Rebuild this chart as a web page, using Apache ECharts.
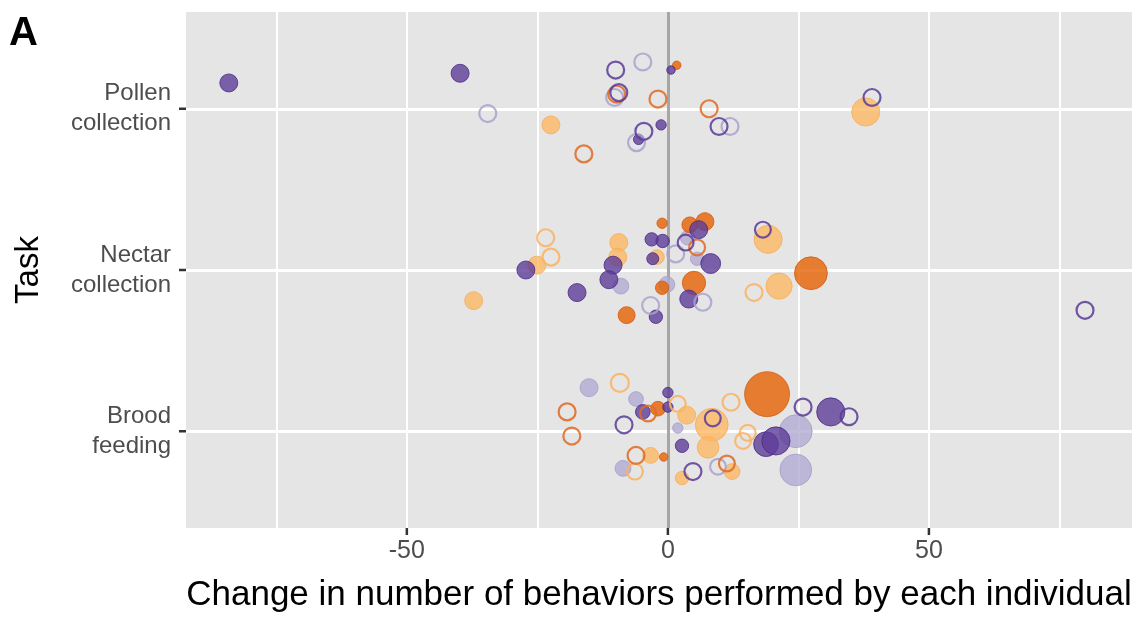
<!DOCTYPE html>
<html><head><meta charset="utf-8">
<script src="https://cdn.jsdelivr.net/npm/echarts@6/dist/echarts.min.js"></script>
<style>html,body{margin:0;padding:0;background:#fff}#c{width:1144px;height:617px}</style>
</head><body><div id="c"></div><script>
// Task categories (y positions 1,2,3)
const tasks = ['Brood\nfeeding', 'Nectar\ncollection', 'Pollen\ncollection'];
const taskTicks = [1, 2, 3];
const xTicks = [-50, 0, 50];
const xGrid = [-75, -50, -25, 0, 25, 50, 75];
const xTitle = 'Change in number of behaviors performed by each individual';
const yTitle = 'Task';
const xMin = -92.3, xMax = 88.9, yMin = 0.4, yMax = 3.6;

// Each point: [change, task (1=Brood,2=Nectar,3=Pollen), jitter, weight]
const darkPurpleFilled = [
  [-84.1,3,0.16,9],[-39.8,3,0.22,9],[-1.3,3,-0.10,3],[-5.6,3,-0.19,3],[0.6,3,0.24,2],
  [-27.2,2,0.00,9],[-17.4,2,-0.14,9],[-10.5,2,0.03,9],[-11.3,2,-0.06,9],[-3.1,2,0.19,5],
  [-1.0,2,0.18,5],[-2.9,2,0.07,4],[-2.3,2,-0.29,5],[5.9,2,0.25,9],[8.2,2,0.04,11],[4.0,2,-0.18,9],
  [-4.8,1,0.12,6],[0.0,1,0.24,3],[0.0,1,0.15,3],[2.7,1,-0.09,5],[18.8,1,-0.08,17],[20.7,1,-0.06,22],[31.2,1,0.12,22]
];
const darkPurpleOpen = [
  [-10.0,3,0.24,8],[-9.4,3,0.10,8],[-4.6,3,-0.14,8],[9.8,3,-0.11,8],[39.1,3,0.07,8],
  [3.4,2,0.17,7],[18.2,2,0.25,7],[79.9,2,-0.25,8],
  [-8.4,1,0.04,8],[4.8,1,-0.25,8],[8.6,1,0.08,7],[25.9,1,0.15,8],[34.7,1,0.09,8]
];
const lightPurpleFilled = [
  [-9.0,2,-0.10,7],[-0.2,2,-0.09,7],[3.8,2,0.20,6],[5.6,2,0.07,5],
  [-15.1,1,0.27,9],[-6.1,1,0.20,6],[1.9,1,0.02,3],[-8.6,1,-0.23,7],[24.5,1,0.00,30],[24.5,1,-0.24,28]
];
const lightPurpleOpen = [
  [-34.5,3,-0.03,8],[-4.8,3,0.29,8],[-10.2,3,0.07,8],[-6.0,3,-0.21,8],[11.9,3,-0.11,8],
  [1.5,2,0.10,8],[-3.3,2,-0.22,8],[6.7,2,-0.20,8],
  [9.6,1,-0.22,7]
];
const darkOrangeFilled = [
  [1.7,3,0.27,2],
  [-1.1,2,0.29,3],[-1.1,2,-0.11,5],[-7.9,2,-0.28,8],[4.2,2,0.28,7],[7.1,2,0.30,9],[5.0,2,-0.08,15],[27.4,2,-0.02,30],
  [-1.9,1,0.14,6],[-0.8,1,-0.16,2],[19.0,1,0.23,56]
];
const darkOrangeOpen = [
  [-16.1,3,-0.28,8],[-9.8,3,0.09,8],[-1.9,3,0.06,8],[7.9,3,0.00,8],
  [5.6,2,0.14,7],
  [-19.3,1,0.12,8],[-18.4,1,-0.03,8],[-3.8,1,0.11,7],[-6.1,1,-0.15,8],[11.3,1,-0.20,7]
];
const lightOrangeFilled = [
  [-22.4,3,-0.10,9],[37.9,3,-0.02,22],
  [-25.1,2,0.03,9],[-37.2,2,-0.19,9],[-9.4,2,0.17,9],[-9.6,2,0.08,9],[-2.1,2,0.08,6],[19.2,2,0.19,22],[21.3,2,-0.10,19],
  [3.6,1,0.10,9],[8.4,1,0.04,30],[7.7,1,-0.10,13],[-3.3,1,-0.15,7],[2.7,1,-0.29,5],[12.3,1,-0.25,7]
];
const lightOrangeOpen = [
  [-23.4,2,0.20,8],[-22.4,2,0.08,8],[16.5,2,-0.14,8],
  [-9.2,1,0.30,9],[1.9,1,0.17,7],[12.1,1,0.18,8],[15.3,1,-0.01,7],[14.4,1,-0.06,7],[-6.3,1,-0.25,7]
];

const FONT = '"Liberation Sans", Arial, Helvetica, sans-serif';
const toPts = arr => arr.map(p => [p[0], p[1] + p[2], p[3]]);
const sizeFn = v => 6 * Math.sqrt(v[2]);

function filledSeries(name, data, color, border) {
  return { name, type: 'scatter', data: toPts(data), symbol: 'circle', symbolSize: sizeFn, z: 5,
    itemStyle: { color: color, opacity: 0.8, borderColor: border, borderWidth: 1 }, silent: true };
}
function openSeries(name, data, color) {
  return { name, type: 'scatter', data: toPts(data), symbol: 'circle', symbolSize: sizeFn, z: 6,
    itemStyle: { color: 'rgba(0,0,0,0)', borderColor: color, borderWidth: 2.2, opacity: 0.85 }, silent: true };
}
// x-axis tick marks: data items sit inside the axis range; the mark is drawn at the panel's bottom edge
const xTickSeries = {
  type: 'custom', coordinateSystem: 'cartesian2d', clip: false, silent: true, z: 30,
  data: xTicks.map(v => [v, 2]),
  renderItem: (params, api) => {
    const p = api.coord([api.value(0), yMin]);
    return { type: 'rect', shape: { x: p[0] - 1.25, y: p[1], width: 2.5, height: 7 }, style: { fill: '#333333' }, z2: 100 };
  }
};
const yTickSeries = { type: 'scatter', clip: false, silent: true, z: 20, data: taskTicks.map(v => [xMin, v]),
  symbol: 'rect', symbolSize: [7, 2.5], symbolOffset: [-3.5, 0], itemStyle: { color: '#333333', opacity: 1 } };

const chart = echarts.init(document.getElementById('c'), null, { renderer: 'canvas' });
const option = {
  animation: false,
  backgroundColor: '#ffffff',
  textStyle: { fontFamily: FONT },
  graphic: [{ type: 'text', left: 9, top: 14, style: { text: 'A', font: 'bold 40px ' + FONT, fill: '#000' } }],
  grid: { left: 186, right: 12, top: 12, bottom: 89, show: true, backgroundColor: '#e5e5e5', borderWidth: 0,
    containLabel: false, outerBoundsMode: 'none' },
  xAxis: {
    type: 'value', min: xMin, max: xMax,
    name: xTitle, nameLocation: 'middle', nameGap: 50,
    nameTextStyle: { fontSize: 35, color: '#000', fontFamily: FONT },
    axisLine: { show: false },
    splitLine: { show: false },
    axisTick: { show: false },
    axisLabel: { customValues: xTicks, formatter: v => String(v), fontSize: 25, color: '#4d4d4d', margin: 11, fontFamily: FONT }
  },
  yAxis: {
    type: 'value', min: yMin, max: yMax,
    name: yTitle, nameLocation: 'middle', nameGap: 141, nameRotate: 90,
    nameTextStyle: { fontSize: 33, color: '#000', fontFamily: FONT },
    axisLine: { show: false },
    splitLine: { show: false },
    axisTick: { show: false },
    axisLabel: { customValues: taskTicks, formatter: v => tasks[Math.round(v) - 1] || '', fontSize: 24, lineHeight: 30, color: '#4d4d4d', margin: 15, align: 'right', fontFamily: FONT }
  },
  series: [
    { type: 'line', data: [], silent: true, z: 1,
      markLine: { silent: true, symbol: 'none', label: { show: false }, animation: false,
        lineStyle: { color: '#ffffff', width: 2, type: 'solid' },
        data: xGrid.map(v => ({ xAxis: v })).concat(taskTicks.map(v => ({ yAxis: v, lineStyle: { color: '#ffffff', width: 3, type: 'solid' } }))) } },
    { type: 'line', data: [], silent: true, z: 2,
      markLine: { silent: true, symbol: 'none', label: { show: false }, animation: false,
        lineStyle: { color: '#a6a6a6', width: 3, type: 'solid' }, data: [{ xAxis: 0 }] } },
    xTickSeries,
    yTickSeries,
    filledSeries('Light purple (filled)', lightPurpleFilled, '#b2abd2', '#a59dc9'),
    filledSeries('Light orange (filled)', lightOrangeFilled, '#fdb863', '#f5ae58'),
    filledSeries('Dark orange (filled)', darkOrangeFilled, '#e66101', '#d45a10'),
    filledSeries('Dark purple (filled)', darkPurpleFilled, '#5e3c99', '#4a2a85'),
    openSeries('Light purple (open)', lightPurpleOpen, '#a9a2cc'),
    openSeries('Light orange (open)', lightOrangeOpen, '#fab360'),
    openSeries('Dark orange (open)', darkOrangeOpen, '#e06a22'),
    openSeries('Dark purple (open)', darkPurpleOpen, '#5a3b96')
  ]
};
chart.setOption(option);
</script></body></html>
